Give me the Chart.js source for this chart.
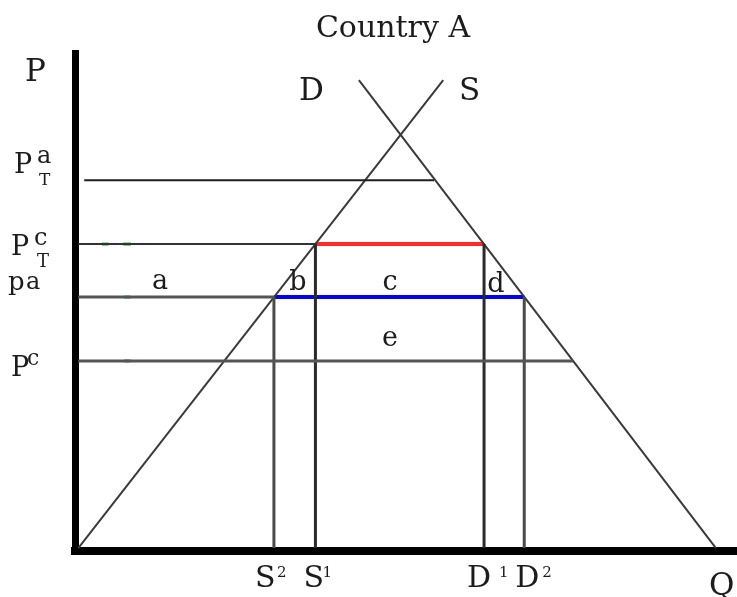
<!DOCTYPE html>
<html>
<head>
<meta charset="utf-8">
<title>Country A</title>
<script src="https://cdn.jsdelivr.net/npm/chart.js@4.4.1/dist/chart.umd.min.js"></script>
<style>
  html, body { margin: 0; padding: 0; background: #fff; }
  #wrap { width: 737px; height: 597px; }
</style>
</head>
<body>
<div id="wrap"><canvas id="chart" width="737" height="597"></canvas></div>
<script>
// price levels on the P axis: P_T^a, P_T^c, p^a, P^c
const priceValues = [74.3, 61.4, 50.7, 37.8];
// where each price line starts and stops along Q
const priceStart = [0.9, 0, 0, 0];
const priceEnd = [54.0, 36.0, 29.7, 75.1];
// quantities on the Q axis: S2, S1, D1, D2
const quantityValues = [29.7, 36.0, 61.6, 67.7];
// supply and demand lines (Q, P)
const supplyQ = [0, 55.4];
const supplyP = [0, 94.5];
const demandQ = [42.6, 96.8];
const demandP = [94.5, 0];
// small green marks sitting on the price lines
const markFrom = [3.6, 6.8, 7.0, 7.0];
const markTo = [4.6, 8.0, 7.9, 7.9];
const markP = [61.4, 61.4, 50.7, 37.8];

const serif = '"DejaVu Serif", "Liberation Serif", serif';

function seg(x1, y1, x2, y2, color, width) {
    return {
        data: [{ x: x1, y: y1 }, { x: x2, y: y2 }],
        borderColor: color,
        borderWidth: width,
        showLine: true,
        pointRadius: 0,
        fill: false,
        clip: false
    };
}

const datasets = [];
// price lines
const priceColors = ['#1e1e1e', '#333333', '#555555', '#555555'];
const priceWidths = [2, 2, 3, 3];
priceValues.forEach((p, i) => {
    datasets.push(seg(priceStart[i], p, priceEnd[i], p, priceColors[i], priceWidths[i]));
});
// vertical quantity lines
const [s2, s1, d1, d2] = quantityValues;
const [pTa, pTc, pA, pC] = priceValues;
datasets.push(seg(s2, 0, s2, pA, '#4a4a4a', 3));
datasets.push(seg(s1, 0, s1, pTc, '#2a2a2a', 3));
datasets.push(seg(d1, 0, d1, pTc, '#2a2a2a', 3));
datasets.push(seg(d2, 0, d2, pA, '#4a4a4a', 3));
// supply and demand
datasets.push(seg(supplyQ[0], supplyP[0], supplyQ[1], supplyP[1], '#3a3a3a', 2));
datasets.push(seg(demandQ[0], demandP[0], demandQ[1], demandP[1], '#3a3a3a', 2));
// red and blue segments
datasets.push(seg(s1, pTc, d1, pTc, '#ff2a2a', 4));
datasets.push(seg(s2, pA, d2, pA, '#0000ee', 4));
// green marks
markP.forEach((p, i) => {
    datasets.push(seg(markFrom[i], p, markTo[i], p, '#2aa02a', 3));
});

const labelPlugin = {
    id: 'labels',
    afterDraw(chart) {
        const ctx = chart.ctx;
        const xs = chart.scales.x;
        const ys = chart.scales.y;
        ctx.save();
        ctx.fillStyle = '#1c1c1c';
        ctx.textBaseline = 'alphabetic';

        function txt(s, x, y, size, align) {
            ctx.font = size + 'px ' + serif;
            ctx.textAlign = align || 'left';
            ctx.fillText(s, x, y);
        }

        txt('Country A', 393, 37, 30, 'center');
        txt('P', 25, 81, 31);
        txt('D', 299, 100, 31);
        txt('S', 459, 100, 31);

        // price labels
        let y = ys.getPixelForValue(pTa);
        txt('P', 14, y - 7, 27);
        txt('a', 37, y - 17, 24);
        txt('T', 39, y + 5, 17);
        y = ys.getPixelForValue(pTc);
        txt('P', 11, y + 11, 27);
        txt('c', 34, y + 1, 24);
        txt('T', 37, y + 23, 18);
        y = ys.getPixelForValue(pA);
        txt('p', 8, y - 7, 26);
        txt('a', 26, y - 8, 24);
        y = ys.getPixelForValue(pC);
        txt('P', 11, y + 15, 27);
        txt('c', 27, y + 4, 22);

        // area letters
        txt('a', 160, 289, 27, 'center');
        txt('b', 298, 290, 27, 'center');
        txt('c', 390, 290, 27, 'center');
        txt('d', 496, 292, 27, 'center');
        txt('e', 390, 346, 27, 'center');

        // quantity labels
        const names = ['S', 'S', 'D', 'D'];
        const sups = ['2', '1', '1', '2'];
        const offS = [-19, -12, -17, -9];
        const offSup = [3, 7, 15, 18];
        quantityValues.forEach((q, i) => {
            const x = xs.getPixelForValue(q);
            txt(names[i], x + offS[i], 587, 30);
            txt(sups[i], x + offSup[i], 577, 15);
        });
        txt('Q', 709, 595, 31);
        ctx.restore();
    }
};

new Chart(document.getElementById('chart'), {
    type: 'scatter',
    data: { datasets: datasets },
    options: {
        responsive: false,
        animation: false,
        devicePixelRatio: 1,
        layout: { padding: { left: 75, top: 53, right: 0, bottom: 46 } },
        plugins: { legend: { display: false }, tooltip: { enabled: false }, title: { display: false } },
        scales: {
            x: {
                type: 'linear', min: -0.5, max: 100,
                ticks: { display: false },
                grid: { display: false, drawTicks: false },
                border: { display: true, color: '#000', width: 8 }
            },
            y: {
                type: 'linear', min: -0.6, max: 100,
                ticks: { display: false },
                grid: { display: false, drawTicks: false },
                border: { display: true, color: '#000', width: 7 }
            }
        }
    },
    plugins: [labelPlugin]
});
</script>
</body>
</html>
